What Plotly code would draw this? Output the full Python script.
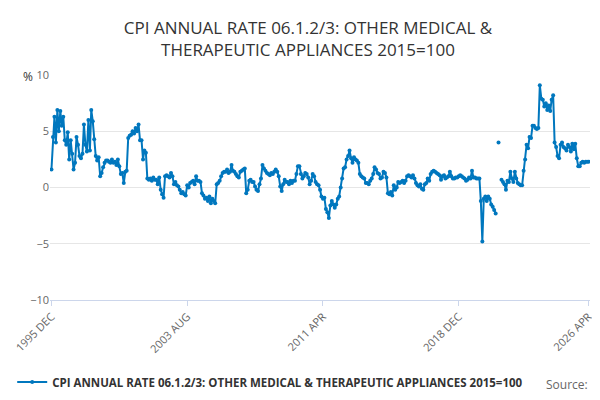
import plotly.graph_objects as go

# monthly values, Dec 1995 .. Apr 2026 (None = no data)
y1995 = [1.6]
y1996 = [4.5, 6.3, 4.0, 6.9, 5.0, 6.8, 5.5, 6.3, 4.2, 3.8, 4.9, 2.5]
y1997 = [4.2, 3.0, 1.6, 2.2, 4.5, 3.8, 2.8, 2.6, 3.0, 5.6, 3.8, 3.2]
y1998 = [6.0, 3.3, 6.9, 5.9, 4.3, 2.8, 2.4, 2.7, 1.0, 1.3, 1.8, 2.2]
y1999 = [2.4, 2.4, 2.3, 2.2, 2.5, 2.2, 2.3, 2.0, 2.5, 1.9, 1.2, 1.3]
y2000 = [0.4, 1.4, 1.5, 4.4, 4.6, 4.7, 5.0, 4.8, 5.3, 5.0, 5.6, 4.2]
y2001 = [4.2, 2.5, 3.3, 3.1, 0.8, 0.7, 0.8, 0.6, 0.9, 0.7, 0.7, 0.3]
y2002 = [0.9, -0.2, -0.6, -0.9, 1.0, 1.1, 1.0, 0.9, 1.3, 1.0, 0.3, 0.5]
y2003 = [0.2, 0.1, -0.2, -0.5, -0.4, -0.6, -0.7, 0.2, 0.0, 0.4, 0.5, 0.6]
y2004 = [0.3, 1.0, 0.6, 0.6, 0.5, -0.5, -0.7, -1.0, -0.9, -1.2, -0.8, -1.4]
y2005 = [-1.0, -1.2, -1.4, 0.3, 0.4, 0.6, 1.0, 1.3, 1.4, 1.4, 1.6, 1.3]
y2006 = [1.4, 2.0, 1.5, 1.4, 1.2, 1.0, 0.9, 1.4, 1.5, 1.6, 1.7, -0.5]
y2007 = [-0.2, 0.6, 0.7, 0.5, 0.5, 0.1, -0.2, -0.3, 0.3, 0.8, 2.0, 1.7]
y2008 = [1.5, 1.3, 1.2, 1.1, 1.3, 1.2, 1.4, 1.6, 1.4, 1.0, 0.1, -0.3]
y2009 = [0.3, 0.7, 0.5, 0.5, 0.3, 0.6, 0.4, 0.6, 0.6, 1.2, 1.9, 1.9]
y2010 = [1.2, 0.8, 1.0, 1.3, 1.2, 0.9, 0.3, 0.6, 1.2, 1.0, 0.5, 0.3]
y2011 = [0.2, -0.2, -0.8, -1.0, -0.9, -1.9, -2.2, -2.7, -1.6, -1.2, -1.5, -1.8]
y2012 = [-1.5, -1.0, -0.8, 0.0, 0.8, 1.7, 1.8, 2.5, 2.8, 3.3, 2.6, 2.2]
y2013 = [2.7, 2.5, 2.4, 2.2, 1.2, 1.0, 0.9, 0.8, 0.4, 0.4, 0.3, 0.6]
y2014 = [0.8, 1.2, 1.8, 1.6, 1.3, 1.2, 0.8, 0.9, 1.4, 1.3, 0.9, -0.5]
y2015 = [-0.6, -0.4, -0.7, 0.2, -0.2, 0.0, 0.5, 0.4, 0.5, 0.6, 0.4, 0.6]
y2016 = [1.0, 1.1, 1.0, 0.9, 1.1, 0.8, 0.4, 0.2, 0.1, 0.3, -0.1, -0.2]
y2017 = [0.3, 0.4, 0.8, 0.6, 1.2, 1.4, 1.5, 1.4, 1.3, 1.2, 1.1, 0.7]
y2018 = [1.0, 1.1, 0.8, 0.9, 1.0, 1.4, 1.0, 0.8, 0.8, 0.9, 0.9, 1.0]
y2019 = [1.1, 1.0, 0.9, 0.8, 0.6, 0.7, 0.9, 0.8, 1.5, 0.9, 0.9, 0.8]
y2020 = [0.8, 0.8, -1.2, -4.8, -1.0, -0.8, -1.2, -0.8, -1.0, -1.5, -1.7, -2.0]
y2021 = [-2.3, None, 4.0, None, 0.7, 0.5, 0.3, -0.2, 0.6, 0.5, 1.4, 0.8]
y2022 = [0.5, 1.4, 0.8, 0.4, 0.3, 0.2, 0.2, 1.5, 2.5, 3.8, 3.5, 4.5]
y2023 = [4.4, 5.5, 5.5, 5.3, 5.2, 5.3, 9.1, 7.9, 7.8, 7.2, 7.5, 6.9]
y2024 = [7.3, 6.8, 7.8, 8.2, 4.0, 3.6, 2.8, 2.6, 3.8, 4.0, 3.6, 3.5]
y2025 = [3.3, 3.8, 3.6, 3.2, 3.9, 3.4, 3.9, 2.6, 1.9, 1.9, 2.2, 2.3]
y2026 = [2.2, 2.3, 2.3, 2.3]

values = (y1995 + y1996 + y1997 + y1998 + y1999 + y2000 + y2001 + y2002 + y2003
          + y2004 + y2005 + y2006 + y2007 + y2008 + y2009 + y2010 + y2011 + y2012
          + y2013 + y2014 + y2015 + y2016 + y2017 + y2018 + y2019 + y2020 + y2021
          + y2022 + y2023 + y2024 + y2025 + y2026)

dates = []
yr, mo = 1995, 12
for _ in values:
    dates.append('%d-%02d-01' % (yr, mo))
    mo += 1
    if mo > 12:
        mo = 1
        yr += 1

tick_vals = ['1995-12-01', '2003-08-01', '2011-04-01', '2018-12-01', '2026-04-01']
tick_text = ['1995 DEC', '2003 AUG', '2011 APR', '2018 DEC', '2026 APR']

series_name = 'CPI ANNUAL RATE 06.1.2/3: OTHER MEDICAL & THERAPEUTIC APPLIANCES 2015=100'
blue = 'rgb(0, 119, 190)'

fig = go.Figure(go.Scatter(x=dates, y=values, mode='lines+markers', name=series_name,
                           line=dict(color=blue, width=2),
                           marker=dict(color=blue, size=4),
                           connectgaps=False))

fig.update_layout(
    width=600, height=400,
    font=dict(family='Open Sans, DejaVu Sans', color='#333'),
    title=dict(text='CPI ANNUAL RATE 06.1.2/3: OTHER MEDICAL &<br>THERAPEUTIC APPLIANCES 2015=100',
               x=0.5, xanchor='center', y=0.935, yanchor='middle',
               font=dict(size=17, color='#333')),
    plot_bgcolor='white', paper_bgcolor='white',
    margin=dict(l=42, r=18, t=67, b=108, autoexpand=False),
    showlegend=True,
    legend=dict(orientation='h', x=-0.07, y=-0.3, xanchor='left', yanchor='top',
                font=dict(size=11.5, color='#333', weight='bold')),
    annotations=[
        dict(text='%', xref='paper', yref='paper', x=-0.04, y=1.04, xanchor='center',
             showarrow=False, font=dict(size=12, color='#333')),
        dict(text='Source:', xref='paper', yref='paper', x=1.0, y=-0.42, xanchor='right',
             showarrow=False, font=dict(size=12, color='#666')),
    ],
)
fig.update_xaxes(tickvals=tick_vals, ticktext=tick_text, tickangle=-45,
                 range=['1995-11-01', '2026-05-01'], showgrid=False,
                 showline=True, linecolor='#ccd6eb', ticks='outside', tickcolor='#ccd6eb',
                 tickfont=dict(size=11, color='#666'))
fig.update_yaxes(range=[-10, 10], tickvals=[-10, -5, 0, 5, 10], gridcolor='#e6e6e6',
                 zeroline=False, tickfont=dict(size=11, color='#666'))

fig.write_html('out.html')
